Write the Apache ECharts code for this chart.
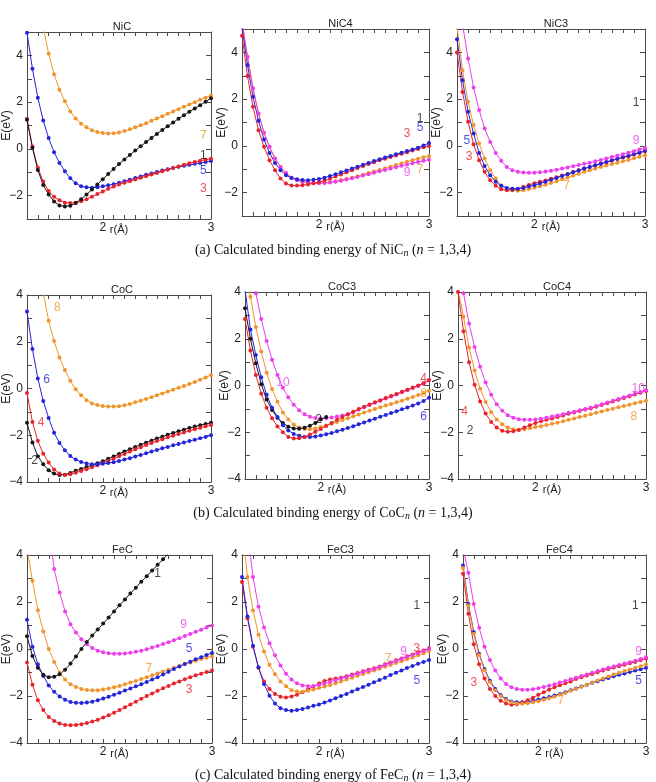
<!DOCTYPE html>
<html>
<head>
<meta charset="utf-8">
<script src="https://cdn.jsdelivr.net/npm/echarts@6/dist/echarts.min.js"></script>
<style>
html, body { margin: 0; padding: 0; background: #fff; }
#main { width: 656px; height: 782px; }
</style>
</head>
<body>
<div id="main"></div>
<script>
// bond length r (Å), one dot every 0.05
const R = [1.30, 1.35, 1.40, 1.45, 1.50, 1.55, 1.60, 1.65, 1.70, 1.75, 1.80, 1.85, 1.90, 1.95,
  2.00, 2.05, 2.10, 2.15, 2.20, 2.25, 2.30, 2.35, 2.40, 2.45, 2.50, 2.55, 2.60, 2.65,
  2.70, 2.75, 2.80, 2.85, 2.90, 2.95, 3.00];
const _ = null;

// NiC, spin multiplicity 1/3/5/7
const nic_1 = [1.25, 0.05, -0.9, -1.55, -1.95, -2.25, -2.42, -2.46, -2.43, -2.32, -2.15, -1.95, -1.74, -1.52,
  -1.3, -1.08, -0.86, -0.65, -0.45, -0.26, -0.07, 0.11, 0.29, 0.47, 0.64, 0.81, 0.97, 1.13,
  1.29, 1.44, 1.59, 1.73, 1.87, 2.02, 2.17];
const nic_3 = [1.29, 0.1, -0.8, -1.4, -1.8, -2.05, -2.2, -2.3, -2.32, -2.3, -2.24, -2.15, -2.05, -1.93,
  -1.82, -1.71, -1.61, -1.52, -1.45, -1.38, -1.31, -1.24, -1.17, -1.1, -1.03, -0.96, -0.89, -0.82,
  -0.75, -0.68, -0.62, -0.56, -0.51, -0.46, -0.42];
const nic_5 = [4.97, 3.43, 2.19, 1.21, 0.46, -0.14, -0.6, -0.96, -1.26, -1.47, -1.6, -1.64, -1.66, -1.64,
  -1.6, -1.56, -1.51, -1.45, -1.39, -1.32, -1.25, -1.18, -1.11, -1.05, -0.99, -0.93, -0.87, -0.82,
  -0.77, -0.72, -0.68, -0.64, -0.6, -0.56, -0.52];
const nic_7 = [_, _, 6.5, 5.2, 4.07, 3.19, 2.53, 2.04, 1.6, 1.3, 1.08, 0.92, 0.8, 0.72,
  0.68, 0.66, 0.67, 0.7, 0.76, 0.84, 0.92, 1.01, 1.1, 1.2, 1.3, 1.4, 1.5, 1.6,
  1.7, 1.8, 1.9, 2.0, 2.1, 2.19, 2.28];
const nic_labels = [[2.93, 0.57, '7', 'o'], [2.93, -0.29, '1', 'k'], [2.93, -0.93, '5', 'b'], [2.93, -1.71, '3', 'r']];

// NiC4
const nic4_3 = [4.71, 2.99, 1.67, 0.67, -0.04, -0.61, -1.04, -1.4, -1.61, -1.69, -1.7, -1.68, -1.65, -1.6,
  -1.55, -1.48, -1.4, -1.31, -1.22, -1.13, -1.04, -0.95, -0.86, -0.78, -0.7, -0.62, -0.55, -0.48,
  -0.41, -0.34, -0.27, -0.2, -0.13, -0.06, 0.0];
const nic4_5 = [5.05, 3.46, 2.1, 1.07, 0.27, -0.3, -0.73, -1.04, -1.26, -1.37, -1.43, -1.46, -1.47, -1.45,
  -1.42, -1.36, -1.29, -1.21, -1.13, -1.05, -0.97, -0.89, -0.81, -0.73, -0.65, -0.57, -0.5, -0.43,
  -0.36, -0.29, -0.22, -0.15, -0.08, 0.02, 0.12];
const nic4_7 = [5.3, 3.81, 2.46, 1.39, 0.56, -0.04, -0.54, -0.9, -1.16, -1.36, -1.47, -1.53, -1.57, -1.59,
  -1.6, -1.58, -1.55, -1.51, -1.46, -1.41, -1.36, -1.3, -1.23, -1.16, -1.1, -1.03, -0.96, -0.89,
  -0.82, -0.75, -0.68, -0.62, -0.55, -0.49, -0.43];
const nic4_9 = [5.3, 3.81, 2.46, 1.39, 0.56, -0.04, -0.54, -0.9, -1.16, -1.36, -1.47, -1.53, -1.57, -1.59,
  -1.6, -1.59, -1.57, -1.53, -1.49, -1.44, -1.39, -1.33, -1.27, -1.21, -1.15, -1.09, -1.03, -0.97,
  -0.91, -0.85, -0.8, -0.74, -0.69, -0.64, -0.59];
const nic4_labels = [[2.92, 1.17, '1', 'k'], [2.92, 0.77, '5', 'b'], [2.8, 0.53, '3', 'r'], [2.8, -1.14, '9', 'm'], [2.92, -1.04, '7', 'o']];

// NiC3
const nic3_3 = [3.99, 2.31, 1.03, 0.07, -0.61, -1.11, -1.47, -1.71, -1.86, -1.9, -1.89, -1.84, -1.76, -1.67,
  -1.6, -1.54, -1.48, -1.41, -1.34, -1.27, -1.2, -1.12, -1.04, -0.97, -0.9, -0.83, -0.76, -0.7,
  -0.63, -0.56, -0.5, -0.44, -0.37, -0.3, -0.23];
const nic3_5 = [4.56, 2.81, 1.46, 0.53, -0.3, -0.86, -1.26, -1.54, -1.71, -1.8, -1.83, -1.83, -1.8, -1.74,
  -1.68, -1.61, -1.53, -1.45, -1.37, -1.29, -1.21, -1.13, -1.05, -0.97, -0.9, -0.83, -0.76, -0.69,
  -0.62, -0.55, -0.48, -0.42, -0.35, -0.28, -0.21];
const nic3_7 = [5.1, 3.24, 1.89, 0.89, 0.1, -0.54, -1.04, -1.4, -1.69, -1.83, -1.9, -1.92, -1.9, -1.85,
  -1.79, -1.73, -1.66, -1.59, -1.51, -1.43, -1.35, -1.27, -1.19, -1.11, -1.04, -0.97, -0.9, -0.84,
  -0.78, -0.72, -0.66, -0.6, -0.53, -0.47, -0.4];
const nic3_9 = [_, 5.2, 3.74, 2.5, 1.53, 0.74, 0.17, -0.3, -0.64, -0.9, -1.04, -1.11, -1.14, -1.15,
  -1.15, -1.13, -1.1, -1.06, -1.02, -0.97, -0.92, -0.87, -0.82, -0.77, -0.72, -0.66, -0.6, -0.54,
  -0.48, -0.42, -0.36, -0.29, -0.23, -0.16, -0.09];
const nic3_labels = [[2.92, 1.86, '1', 'k'], [1.39, 0.24, '5', 'b'], [1.41, -0.47, '3', 'r'], [2.92, 0.24, '9', 'm'], [2.29, -1.71, '7', 'o']];

// CoC, multiplicity 2/4/6/8
const coc_2 = [-1.46, -2.31, -2.9, -3.24, -3.5, -3.64, -3.7, -3.69, -3.61, -3.52, -3.44, -3.36, -3.28, -3.2,
  -3.11, -3.01, -2.91, -2.8, -2.7, -2.6, -2.5, -2.41, -2.32, -2.23, -2.14, -2.06, -1.98, -1.9,
  -1.83, -1.76, -1.69, -1.63, -1.57, -1.52, -1.47];
const coc_4 = [-0.19, -1.43, -2.24, -2.79, -3.17, -3.46, -3.64, -3.7, -3.67, -3.6, -3.53, -3.45, -3.37, -3.28,
  -3.19, -3.1, -3.0, -2.9, -2.8, -2.7, -2.6, -2.51, -2.42, -2.33, -2.25, -2.17, -2.09, -2.02,
  -1.95, -1.88, -1.81, -1.74, -1.68, -1.62, -1.56];
const coc_6 = [3.29, 1.69, 0.43, -0.54, -1.26, -1.89, -2.33, -2.64, -2.89, -3.04, -3.14, -3.21, -3.24, -3.24,
  -3.22, -3.19, -3.15, -3.1, -3.04, -2.98, -2.91, -2.84, -2.77, -2.7, -2.63, -2.56, -2.5, -2.43,
  -2.37, -2.31, -2.25, -2.19, -2.13, -2.07, -2.0];
const coc_8 = [_, _, 5.5, 4.1, 2.9, 2.03, 1.33, 0.79, 0.33, -0.03, -0.29, -0.5, -0.64, -0.71,
  -0.75, -0.77, -0.77, -0.76, -0.72, -0.66, -0.59, -0.52, -0.45, -0.37, -0.29, -0.21, -0.13, -0.05,
  0.03, 0.11, 0.19, 0.28, 0.37, 0.47, 0.58];
const coc_labels = [[1.58, 3.47, '8', 'o'], [1.48, 0.39, '6', 'b'], [1.43, -1.47, '4', 'r'], [1.37, -3.07, '2', 'k']];

// CoC3
const coc3_2 = [3.3, 2.0, 0.95, 0.05, -0.6, -1.05, -1.38, -1.6, -1.76, -1.84, -1.85, -1.81, -1.72, -1.6,
  -1.45, -1.35, _, _, _, _, _, _, _, _, _, _, _, _,
  _, _, _, _, _, _, _];
const coc3_4 = [2.85, 1.5, 0.45, -0.35, -0.95, -1.4, -1.75, -2.0, -2.2, -2.27, -2.26, -2.2, -2.1, -1.98,
  -1.86, -1.73, -1.6, -1.47, -1.35, -1.23, -1.12, -1.01, -0.91, -0.81, -0.72, -0.63, -0.54, -0.45,
  -0.36, -0.27, -0.18, -0.09, 0.0, 0.1, 0.23];
const coc3_6 = [4.1, 2.4, 1.3, 0.35, -0.4, -0.95, -1.35, -1.7, -1.92, -2.07, -2.15, -2.2, -2.2, -2.18,
  -2.14, -2.09, -2.03, -1.96, -1.89, -1.82, -1.74, -1.66, -1.58, -1.5, -1.42, -1.34, -1.26, -1.18,
  -1.1, -1.02, -0.94, -0.86, -0.77, -0.66, -0.52];
const coc3_8 = [5.2, 3.8, 2.5, 1.45, 0.55, -0.15, -0.7, -1.15, -1.45, -1.67, -1.8, -1.86, -1.87, -1.84,
  -1.78, -1.71, -1.64, -1.56, -1.48, -1.4, -1.32, -1.24, -1.16, -1.08, -1.0, -0.93, -0.86, -0.79,
  -0.72, -0.65, -0.57, -0.49, -0.41, -0.32, -0.22];
const coc3_10 = [_, 5.3, 3.95, 2.85, 1.9, 1.1, 0.45, -0.1, -0.5, -0.82, -1.06, -1.23, -1.34, -1.39,
  -1.41, -1.4, -1.37, -1.33, -1.28, -1.23, -1.14, -1.03, -0.93, -0.83, -0.74, -0.65, -0.56, -0.47,
  -0.38, -0.29, -0.2, -0.11, -0.02, 0.08, 0.21];
const coc3_labels = [[1.65, 0.14, '10', 'm'], [2.95, 0.28, '4', 'r'], [2.95, -0.36, '8', 'o'], [2.95, -1.35, '6', 'b'], [1.98, -1.45, '2', 'k']];

// CoC4
const coc4_4 = [4.0, 2.32, 1.0, 0.03, -0.68, -1.2, -1.56, -1.8, -1.94, -1.98, -1.96, -1.9, -1.8, -1.7,
  -1.6, -1.53, -1.47, -1.41, -1.35, -1.28, -1.21, -1.15, -1.09, -1.03, -0.98, -0.91, -0.83, -0.76,
  -0.68, -0.61, -0.53, -0.46, -0.38, -0.31, -0.23];
const coc4_8 = [4.1, 2.94, 1.63, 0.64, -0.14, -0.71, -1.14, -1.45, -1.66, -1.8, -1.87, -1.89, -1.87, -1.83,
  -1.78, -1.74, -1.69, -1.64, -1.59, -1.53, -1.47, -1.41, -1.35, -1.29, -1.23, -1.17, -1.11, -1.05,
  -0.99, -0.93, -0.88, -0.82, -0.76, -0.71, -0.65];
const coc4_10 = [5.4, 3.95, 2.65, 1.65, 0.8, 0.13, -0.4, -0.8, -1.08, -1.27, -1.38, -1.44, -1.47, -1.47,
  -1.45, -1.42, -1.38, -1.33, -1.28, -1.23, -1.17, -1.12, -1.06, -1.0, -0.95, -0.88, -0.8, -0.73,
  -0.65, -0.58, -0.5, -0.43, -0.35, -0.28, -0.2];
const coc4_labels = [[2.93, -0.14, '10', 'm'], [2.89, -1.35, '8', 'o'], [1.36, -1.14, '4', 'r'], [1.41, -1.95, '2', 'k']];

// FeC, multiplicity 1/3/5/7/9
const fec_1 = [0.54, -0.3, -0.8, -1.1, -1.2, -1.18, -1.07, -0.88, -0.62, -0.32, 0.0, 0.3, 0.57, 0.83,
  1.08, 1.34, 1.6, 1.86, 2.11, 2.36, 2.61, 2.86, 3.1, 3.34, 3.58, 3.82, 4.06, _,
  _, _, _, _, _, _, _];
const fec_3 = [-0.57, -1.52, -2.18, -2.6, -2.89, -3.06, -3.17, -3.23, -3.24, -3.23, -3.2, -3.15, -3.09, -3.01,
  -2.92, -2.82, -2.71, -2.6, -2.48, -2.36, -2.24, -2.12, -2.0, -1.89, -1.78, -1.67, -1.57, -1.47,
  -1.38, -1.29, -1.2, -1.12, -1.05, -0.98, -0.91];
const fec_5 = [1.24, 0.1, -0.65, -1.15, -1.55, -1.82, -2.02, -2.16, -2.25, -2.29, -2.3, -2.28, -2.24, -2.18,
  -2.11, -2.03, -1.95, -1.86, -1.77, -1.68, -1.59, -1.5, -1.4, -1.3, -1.2, -1.09, -0.97, -0.85,
  -0.74, -0.64, -0.54, -0.44, -0.35, -0.26, -0.17];
const fec_7 = [4.3, 2.9, 1.65, 0.75, 0.0, -0.55, -1.0, -1.3, -1.5, -1.62, -1.7, -1.74, -1.76, -1.75,
  -1.72, -1.68, -1.63, -1.57, -1.5, -1.43, -1.36, -1.28, -1.2, -1.12, -1.04, -0.96, -0.88, -0.8,
  -0.72, -0.64, -0.57, -0.5, -0.43, -0.37, -0.31];
const fec_9 = [_, _, _, _, 5.2, 3.4, 2.4, 1.6, 1.05, 0.7, 0.42, 0.2, 0.04, -0.07,
  -0.14, -0.18, -0.2, -0.2, -0.19, -0.16, -0.12, -0.07, -0.01, 0.06, 0.13, 0.21, 0.29, 0.37,
  0.46, 0.55, 0.64, 0.73, 0.82, 0.91, 1.0];
const fec_labels = [[2.5, 3.2, '1', 'k'], [2.74, 1.04, '9', 'm'], [2.79, 0.0, '5', 'b'], [2.42, -0.83, '7', 'o'], [2.79, -1.74, '3', 'r']];

// FeC3
const fec3_3 = [2.85, 1.31, 0.1, -0.81, -1.38, -1.7, -1.92, -2.03, -2.06, -2.02, -1.95, -1.84, -1.72, -1.6,
  -1.47, -1.36, -1.3, -1.25, -1.22, -1.16, -1.09, -1.02, -0.95, -0.88, -0.82, -0.74, -0.65, -0.57,
  -0.48, -0.4, -0.31, -0.23, -0.14, -0.06, 0.03];
const fec3_5 = [3.06, 1.38, 0.14, -0.78, -1.49, -1.99, -2.32, -2.52, -2.6, -2.63, -2.6, -2.55, -2.49, -2.42,
  -2.36, -2.28, -2.19, -2.1, -2.0, -1.91, -1.81, -1.71, -1.62, -1.52, -1.42, -1.32, -1.22, -1.11,
  -1.01, -0.91, -0.81, -0.72, -0.63, -0.55, -0.47];
const fec3_7 = [5.3, 3.06, 1.64, 0.61, -0.11, -0.67, -1.07, -1.38, -1.59, -1.75, -1.81, -1.82, -1.78, -1.72,
  -1.66, -1.6, -1.53, -1.46, -1.38, -1.3, -1.22, -1.14, -1.06, -0.99, -0.92, -0.84, -0.76, -0.68,
  -0.6, -0.52, -0.44, -0.36, -0.27, -0.18, -0.08];
const fec3_9 = [_, 5.0, 3.06, 1.8, 0.92, 0.25, -0.27, -0.7, -1.05, -1.3, -1.46, -1.55, -1.58, -1.57,
  -1.53, -1.47, -1.4, -1.33, -1.26, -1.19, -1.12, -1.05, -0.98, -0.91, -0.85, -0.77, -0.68, -0.6,
  -0.51, -0.43, -0.34, -0.26, -0.17, -0.09, 0.0];
const fec3_labels = [[2.89, 1.85, '1', 'k'], [2.77, -0.11, '9', 'm'], [2.89, 0.0, '3', 'r'], [2.63, -0.43, '7', 'o'], [2.89, -1.35, '5', 'b']];

// FeC4
const fec4_3 = [3.2, 1.5, 0.2, -0.65, -1.25, -1.7, -2.0, -2.2, -2.32, -2.37, -2.35, -2.28, -2.18, -2.07,
  -1.95, -1.84, -1.73, -1.63, -1.54, -1.46, -1.38, -1.28, -1.2, -1.13, -1.06, -0.99, -0.92, -0.85,
  -0.79, -0.73, -0.67, -0.61, -0.55, -0.48, -0.4];
const fec4_5 = [3.55, 1.92, 0.72, -0.2, -0.85, -1.35, -1.7, -1.96, -2.13, -2.23, -2.27, -2.27, -2.25, -2.2,
  -2.15, -2.1, -2.04, -1.98, -1.91, -1.84, -1.76, -1.68, -1.6, -1.52, -1.44, -1.37, -1.3, -1.23,
  -1.16, -1.1, -1.04, -0.98, -0.92, -0.86, -0.8];
const fec4_7 = [3.45, 1.85, 0.65, -0.25, -0.9, -1.4, -1.75, -2.0, -2.17, -2.27, -2.32, -2.33, -2.31, -2.27,
  -2.22, -2.16, -2.1, -2.03, -1.95, -1.87, -1.78, -1.7, -1.61, -1.52, -1.43, -1.34, -1.25, -1.17,
  -1.09, -1.01, -0.94, -0.87, -0.8, -0.73, -0.66];
const fec4_9 = [4.3, 3.24, 1.92, 0.9, 0.1, -0.47, -0.92, -1.25, -1.49, -1.63, -1.7, -1.73, -1.73, -1.71,
  -1.67, -1.62, -1.56, -1.5, -1.43, -1.36, -1.29, -1.22, -1.15, -1.08, -1.01, -0.94, -0.87, -0.8,
  -0.74, -0.68, -0.62, -0.56, -0.5, -0.43, -0.35];
const fec4_labels = [[2.9, 1.85, '1', 'k'], [2.93, -0.1, '9', 'm'], [2.93, -1.35, '5', 'b'], [1.4, -1.45, '3', 'r'], [2.21, -2.2, '7', 'o']];

const COL = { k: '#161616', r: '#e8232b', b: '#2424dc', o: '#f0942c', m: '#ec3eec' };

// panel layout: [left, top, width, height] in px, y range, curves in drawing order
const panels = [
  { name: 'NiC',  box: [23, 32, 188, 187],  y: [-3, 5], lines: [['o', nic_7], ['b', nic_5], ['r', nic_3], ['k', nic_1]], labels: nic_labels },
  { name: 'NiC4', box: [242, 29, 187, 187], y: [-3, 5], lines: [['o', nic4_7], ['m', nic4_9], ['r', nic4_3], ['b', nic4_5]], labels: nic4_labels },
  { name: 'NiC3', box: [457, 29, 188, 187], y: [-3, 5], lines: [['o', nic3_7], ['r', nic3_3], ['b', nic3_5], ['m', nic3_9]], labels: nic3_labels },
  { name: 'CoC',  box: [23, 295, 188, 187], y: [-4, 4], lines: [['k', coc_2], ['r', coc_4], ['b', coc_6], ['o', coc_8]], labels: coc_labels },
  { name: 'CoC3', box: [245, 292, 184, 187], y: [-4, 4], lines: [['m', coc3_10], ['o', coc3_8], ['k', coc3_2], ['b', coc3_6], ['r', coc3_4]], labels: coc3_labels },
  { name: 'CoC4', box: [458, 292, 188, 187], y: [-4, 4], lines: [['o', coc4_8], ['r', coc4_4], ['m', coc4_10]], labels: coc4_labels },
  { name: 'FeC',  box: [23, 555, 189, 188], y: [-4, 4], lines: [['m', fec_9], ['o', fec_7], ['b', fec_5], ['r', fec_3], ['k', fec_1]], labels: fec_labels },
  { name: 'FeC3', box: [242, 555, 187, 188], y: [-4, 4], lines: [['r', fec3_3], ['o', fec3_7], ['m', fec3_9], ['b', fec3_5]], labels: fec3_labels },
  { name: 'FeC4', box: [463, 555, 183, 188], y: [-4, 4], lines: [['b', fec4_5], ['r', fec4_3], ['o', fec4_7], ['m', fec4_9]], labels: fec4_labels }
];

const captions = [
  ['(a)', 'NiC', 237],
  ['(b)', 'CoC', 500],
  ['(c)', 'FeC', 762]
];

const SANS = 'Liberation Sans, Arial, sans-serif';
const SERIF = 'Liberation Serif, Times New Roman, serif';
const AX = '#4a4a4a';

const chart = echarts.init(document.getElementById('main'));
const grid = [], xAxis = [], yAxis = [], series = [], title = [];

panels.forEach(function (p, i) {
  const l = p.box[0], t = p.box[1], w = p.box[2], h = p.box[3];
  grid.push({ left: l, top: t, width: w, height: h });
  title.push({
    text: p.name, left: l + w / 2, top: t - 16, textAlign: 'center',
    textStyle: { fontSize: 11, fontWeight: 'normal', color: '#222', fontFamily: SANS }
  });

  const xBase = {
    type: 'value', gridIndex: i, min: 1.3, max: 3, interval: 0.1,
    splitLine: { show: false },
    axisLine: { onZero: false, lineStyle: { color: AX, width: 1 } },
    axisTick: { inside: true, length: 4, lineStyle: { color: AX } }
  };
  xAxis.push(Object.assign({}, xBase, {
    position: 'bottom',
    name: 'r(Å)', nameLocation: 'middle', nameGap: 5, nameMoveOverlap: false,
    nameTextStyle: { fontSize: 11, color: '#222', fontFamily: SANS, verticalAlign: 'top' },
    axisLabel: {
      margin: 3, fontSize: 12, color: '#222', fontFamily: SANS,
      formatter: function (v) {
        if (Math.abs(v - 2) < 1e-6) return '2';
        if (Math.abs(v - 3) < 1e-6) return '3';
        return '';
      }
    }
  }));
  xAxis.push(Object.assign({}, xBase, { position: 'top', axisLabel: { show: false } }));

  const yBase = {
    type: 'value', gridIndex: i, min: p.y[0], max: p.y[1], interval: 1,
    splitLine: { show: false },
    axisLine: { onZero: false, lineStyle: { color: AX, width: 1 } },
    axisTick: { inside: true, length: 5, lineStyle: { color: AX } }
  };
  yAxis.push(Object.assign({}, yBase, {
    position: 'left',
    name: 'E(eV)', nameLocation: 'middle', nameGap: 14, nameRotate: 90, nameMoveOverlap: false,
    nameTextStyle: { fontSize: 12, color: '#222', fontFamily: SANS },
    axisLabel: {
      margin: 4, fontSize: 12, color: '#222', fontFamily: SANS,
      formatter: function (v) {
        const n = Math.round(v);
        if (n % 2 !== 0) return '';
        return n < 0 ? '\u2212' + (-n) : String(n);
      }
    }
  }));
  yAxis.push(Object.assign({}, yBase, { position: 'right', axisLabel: { show: false } }));

  p.lines.forEach(function (ln) {
    const c = COL[ln[0]];
    series.push({
      type: 'line', xAxisIndex: 2 * i, yAxisIndex: 2 * i,
      data: R.map(function (r, k) { return [r, ln[1][k] == null ? '-' : ln[1][k]]; }),
      symbol: 'circle', symbolSize: 4, showSymbol: true, clip: true, silent: true,
      lineStyle: { width: 1, color: c }, itemStyle: { color: c }
    });
  });

  series.push({
    type: 'scatter', xAxisIndex: 2 * i, yAxisIndex: 2 * i, silent: true, z: 10,
    symbolSize: 1, itemStyle: { color: 'transparent' },
    data: p.labels.map(function (lb) {
      return {
        value: [lb[0], lb[1]],
        label: { show: true, position: 'inside', formatter: lb[2], color: COL[lb[3]], fontSize: 12, fontFamily: SANS }
      };
    })
  });
});

captions.forEach(function (c) {
  title.push({
    text: c[0] + ' Calculated binding energy of ' + c[1] + '{s|n} ({i|n} = 1,3,4)',
    left: 328, top: c[2], textAlign: 'center',
    textStyle: {
      fontSize: 14, fontWeight: 'normal', color: '#111', fontFamily: SERIF, lineHeight: 16,
      rich: {
        s: { fontSize: 10, fontStyle: 'italic', fontFamily: SERIF, color: '#111', lineHeight: 6, verticalAlign: 'bottom' },
        i: { fontSize: 14, fontStyle: 'italic', fontFamily: SERIF, color: '#111' }
      }
    }
  });
});

chart.setOption({
  animation: false,
  backgroundColor: '#fff',
  title: title,
  grid: grid,
  xAxis: xAxis,
  yAxis: yAxis,
  series: series
});
</script>
</body>
</html>
